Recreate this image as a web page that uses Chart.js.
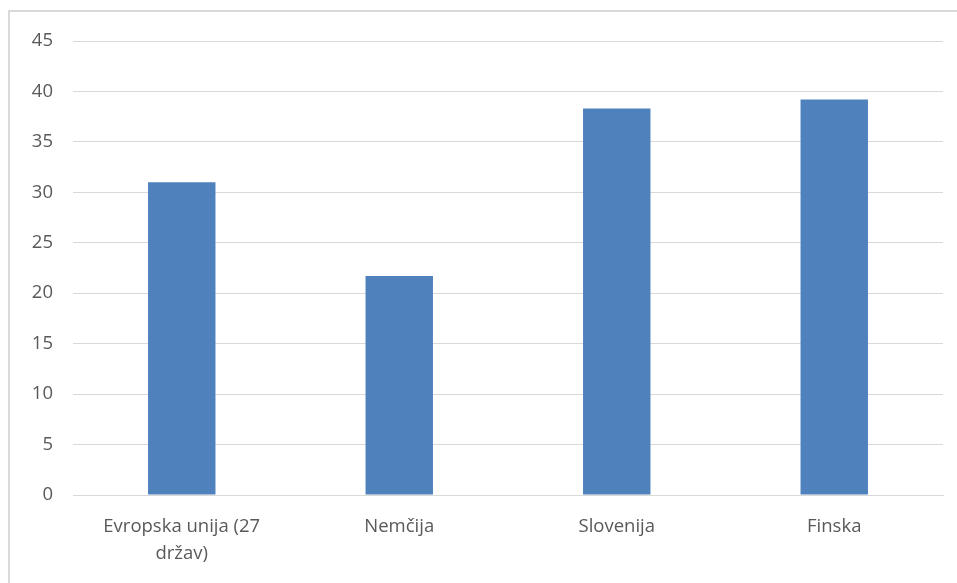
<!DOCTYPE html>
<html>
<head>
<meta charset="utf-8">
<script src="https://cdn.jsdelivr.net/npm/chart.js@4"></script>
<style>
  body { margin: 0; background: #fff; }
  #frame { position: absolute; left: 8px; top: 10px; width: 970px; height: 600px; border: 2px solid #d9d9d9; }
  #wrap { position: absolute; left: 0; top: 0; width: 957px; height: 583px; }
</style>
</head>
<body>
<div id="frame"></div>
<div id="wrap"><canvas id="myChart"></canvas></div>
<script>
const kategorije = [["Evropska unija (27", "držav)"], "Nemčija", "Slovenija", "Finska"];
const vrednosti = [31.0, 21.7, 38.3, 39.2];
const yTicks = [0, 5, 10, 15, 20, 25, 30, 35, 40, 45];

function grafico() {
  const ctx = document.getElementById('myChart');

  new Chart(ctx, {
    type: 'bar',
    data: {
      labels: kategorije,
      datasets: [{
        data: vrednosti,
        backgroundColor: '#4F81BD',
        barPercentage: 0.31,
        categoryPercentage: 1
      }]
    },
    options: {
      responsive: true,
      maintainAspectRatio: false,
      animation: false,
      layout: { padding: { top: 41, right: 14, left: 0, bottom: 0 } },
      plugins: { legend: { display: false }, tooltip: { enabled: false } },
      scales: {
        x: {
          grid: { display: false },
          border: { color: '#d9d9d9', width: 1 },
          ticks: {
            color: '#595959',
            font: { family: 'Open Sans', size: 18.5, lineHeight: 1.45 },
            maxRotation: 0,
            padding: 10
          },
          afterFit: function (axis) { axis.height = 88; }
        },
        y: {
          min: 0,
          max: 45,
          afterBuildTicks: function (axis) { axis.ticks = yTicks.map(v => ({ value: v })); },
          grid: { color: '#d9d9d9', lineWidth: 1, drawTicks: false },
          border: { display: false },
          ticks: {
            color: '#595959',
            font: { family: 'Open Sans', size: 18.5 },
            padding: 20
          },
          afterFit: function (axis) { axis.width = 73; }
        }
      }
    }
  });
}

grafico();
</script>
</body>
</html>
